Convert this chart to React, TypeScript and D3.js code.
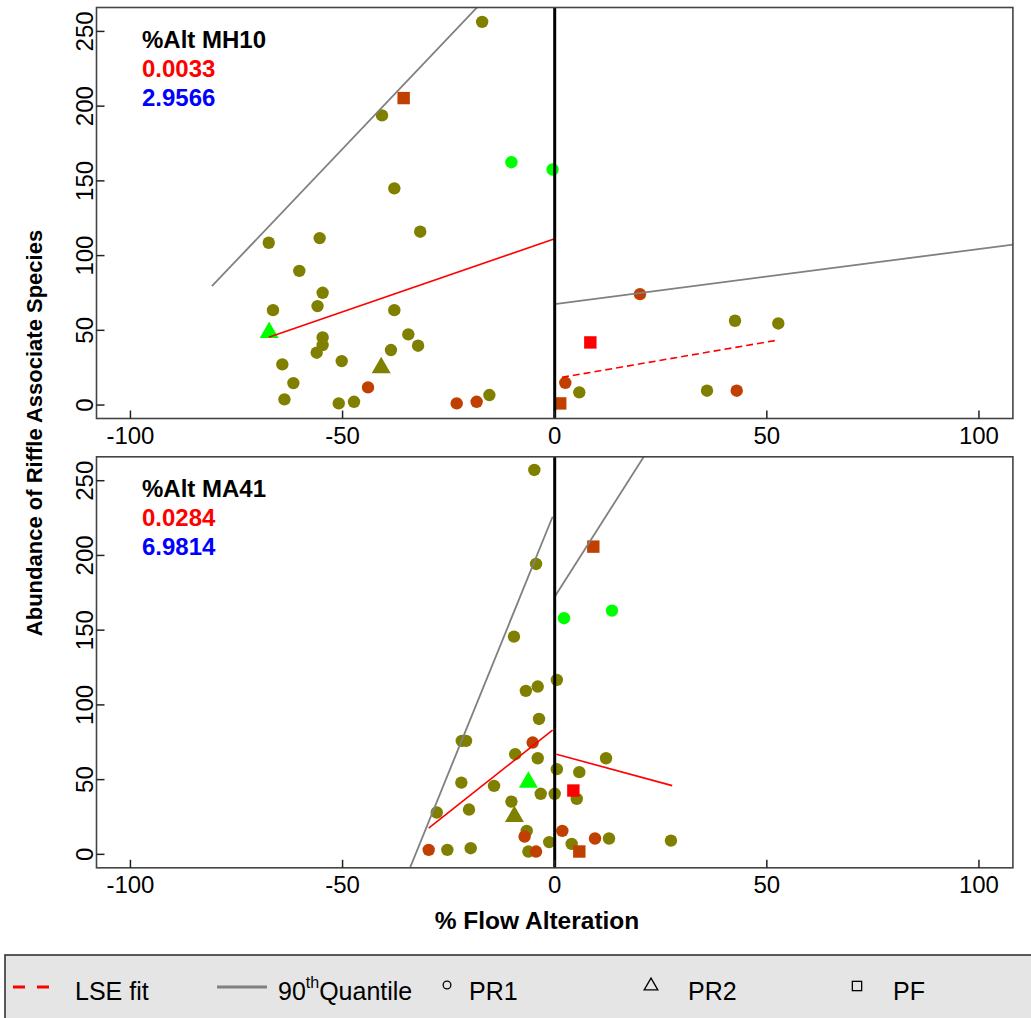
import React from "react";
import * as d3 from "d3";

// ---- data ----
const xTicks = [-100, -50, 0, 50, 100];
const yTicks = [0, 50, 100, 150, 200, 250];

// c: site class (1 = class A, 2 = class B, 3 = class C, 4 = class D)
// t: station type
const mh10Points = [
  { x: -17.1, y: 256.4, t: "PR1", c: 1 }, { x: -40.7, y: 193.8, t: "PR1", c: 1 },
  { x: -10.2, y: 162.5, t: "PR1", c: 3 }, { x: -0.5, y: 157.6, t: "PR1", c: 3 },
  { x: -37.8, y: 145, t: "PR1", c: 1 }, { x: -31.7, y: 116, t: "PR1", c: 1 },
  { x: -67.4, y: 108.6, t: "PR1", c: 1 }, { x: -55.4, y: 111.7, t: "PR1", c: 1 },
  { x: -60.2, y: 89.8, t: "PR1", c: 1 }, { x: -54.7, y: 75.1, t: "PR1", c: 1 },
  { x: -55.9, y: 66.2, t: "PR1", c: 1 }, { x: -66.4, y: 63.5, t: "PR1", c: 1 },
  { x: -37.8, y: 63.5, t: "PR1", c: 1 }, { x: -54.7, y: 45.3, t: "PR1", c: 1 },
  { x: -54.7, y: 40.1, t: "PR1", c: 1 }, { x: -56.1, y: 35, t: "PR1", c: 1 },
  { x: -34.5, y: 47.3, t: "PR1", c: 1 }, { x: -32.2, y: 39.7, t: "PR1", c: 1 },
  { x: -38.6, y: 36.8, t: "PR1", c: 1 }, { x: -50.2, y: 29.4, t: "PR1", c: 1 },
  { x: -64.2, y: 27.2, t: "PR1", c: 1 }, { x: -61.6, y: 14.7, t: "PR1", c: 1 },
  { x: -63.7, y: 3.8, t: "PR1", c: 1 }, { x: -50.9, y: 1.1, t: "PR1", c: 1 },
  { x: -47.3, y: 2.2, t: "PR1", c: 1 }, { x: -44, y: 11.8, t: "PR1", c: 2 },
  { x: -23.1, y: 1.1, t: "PR1", c: 2 }, { x: -18.4, y: 2.2, t: "PR1", c: 2 },
  { x: -15.4, y: 6.7, t: "PR1", c: 1 }, { x: 20.1, y: 74.2, t: "PR1", c: 2 },
  { x: 42.5, y: 56.4, t: "PR1", c: 1 }, { x: 52.7, y: 54.6, t: "PR1", c: 1 },
  { x: 2.5, y: 14.9, t: "PR1", c: 2 }, { x: 5.8, y: 8.5, t: "PR1", c: 1 },
  { x: 35.9, y: 9.6, t: "PR1", c: 1 }, { x: 42.9, y: 9.6, t: "PR1", c: 2 },
  { x: -67.3, y: 48.5, t: "PR2", c: 3 }, { x: -40.9, y: 25, t: "PR2", c: 1 },
  { x: -35.6, y: 205.4, t: "PF", c: 2 }, { x: 1.3, y: 1.1, t: "PF", c: 2 },
  { x: 8.4, y: 41.9, t: "PF", c: 4 },
];

const ma41Points = [
  { x: -4.8, y: 257.2, t: "PR1", c: 1 }, { x: -4.4, y: 194.3, t: "PR1", c: 1 },
  { x: 13.5, y: 163.1, t: "PR1", c: 3 }, { x: 2.2, y: 158, t: "PR1", c: 3 },
  { x: -9.6, y: 145.7, t: "PR1", c: 1 }, { x: 0.5, y: 116.7, t: "PR1", c: 1 },
  { x: -4, y: 112.3, t: "PR1", c: 1 }, { x: -6.8, y: 109.4, t: "PR1", c: 1 },
  { x: -3.7, y: 90.6, t: "PR1", c: 1 }, { x: -21.9, y: 75.9, t: "PR1", c: 1 },
  { x: -20.9, y: 75.9, t: "PR1", c: 1 }, { x: -5.2, y: 74.8, t: "PR1", c: 2 },
  { x: -9.3, y: 67, t: "PR1", c: 1 }, { x: -4, y: 64.3, t: "PR1", c: 1 },
  { x: 12.1, y: 64.3, t: "PR1", c: 1 }, { x: 0.5, y: 57, t: "PR1", c: 1 },
  { x: 5.8, y: 55, t: "PR1", c: 1 }, { x: -22, y: 48, t: "PR1", c: 1 },
  { x: -14.3, y: 45.8, t: "PR1", c: 1 }, { x: -3.3, y: 40.5, t: "PR1", c: 1 },
  { x: 0, y: 40.5, t: "PR1", c: 1 }, { x: 5.2, y: 37.1, t: "PR1", c: 1 },
  { x: -10.2, y: 35.3, t: "PR1", c: 1 }, { x: -20.2, y: 30, t: "PR1", c: 1 },
  { x: -27.8, y: 28, t: "PR1", c: 1 }, { x: -6.6, y: 15.7, t: "PR1", c: 1 },
  { x: -7.1, y: 11.9, t: "PR1", c: 2 }, { x: 1.8, y: 15.7, t: "PR1", c: 2 },
  { x: 9.5, y: 10.6, t: "PR1", c: 2 }, { x: 12.8, y: 10.6, t: "PR1", c: 1 },
  { x: 27.4, y: 9.2, t: "PR1", c: 1 }, { x: -1.3, y: 8.2, t: "PR1", c: 1 },
  { x: 4, y: 7, t: "PR1", c: 1 }, { x: -29.7, y: 3, t: "PR1", c: 2 },
  { x: -25.3, y: 3, t: "PR1", c: 1 }, { x: -19.8, y: 4.1, t: "PR1", c: 1 },
  { x: -6.2, y: 1.9, t: "PR1", c: 1 }, { x: -4.4, y: 1.9, t: "PR1", c: 2 },
  { x: -6.2, y: 48.2, t: "PR2", c: 3 }, { x: -9.5, y: 25.3, t: "PR2", c: 1 },
  { x: 9.1, y: 205.9, t: "PF", c: 2 }, { x: 4.4, y: 42.7, t: "PF", c: 4 },
  { x: 5.8, y: 1.9, t: "PF", c: 2 },
];

// fitted lines: y = a + b*x over [x0, x1]
const mh10Lines = [
  { kind: "q90", a: 320.7, b: 2.985, x0: -80.8, x1: 0 },
  { kind: "lse", a: 111.3, b: 0.979, x0: -67.4, x1: 0 },
  { kind: "q90", a: 67.6, b: 0.368, x0: 0, x1: 110 },
  { kind: "lseDash", a: 17.7, b: 0.49, x0: 1.7, x1: 52.5 },
];
const ma41Lines = [
  { kind: "q90", a: 229.4, b: 6.99, x0: -34.5, x1: -0.5 },
  { kind: "lse", a: 84.3, b: 2.25, x0: -29.7, x1: -0.5 },
  { kind: "q90", a: 172.4, b: 4.46, x0: 0, x1: 28 },
  { kind: "lse", a: 67.3, b: -0.77, x0: 0.4, x1: 27.7 },
];

const panels = [
  { title: "%Alt MH10", v1: "0.0033", v2: "2.9566", points: mh10Points, lines: mh10Lines },
  { title: "%Alt MA41", v1: "0.0284", v2: "6.9814", points: ma41Points, lines: ma41Lines },
];

const legendItems = ["LSE fit", "90th Quantile", "PR1", "PR2", "PF"];

// ---- styles ----
const classColor: Record<number, string> = { 1: "#808000", 2: "#BF4000", 3: "#00FF00", 4: "#FF0000" };
const FONT = "'Liberation Sans', Arial, Helvetica, sans-serif";

const X0 = 96.5, X1 = 1012.9;
const panelTops = [7.5, 456.8];
const PH = 411;

function Marker({ t, cx, cy, fill, stroke, size = 1 }: any) {
  if (t === "PR1") return <circle cx={cx} cy={cy} r={6.2 * size} fill={fill} stroke={stroke} strokeWidth={stroke ? 1.3 : 0} />;
  if (t === "PR2") {
    const s = 9.5 * size;
    const h = s * 1.732;
    const pts = [[cx, cy - (2 * h) / 3], [cx - s, cy + h / 3], [cx + s, cy + h / 3]];
    return <polygon points={pts.map((p) => p.join(",")).join(" ")} fill={fill} stroke={stroke} strokeWidth={stroke ? 1.3 : 0} />;
  }
  const a = 6.2 * size;
  return <rect x={cx - a} y={cy - a} width={2 * a} height={2 * a} fill={fill} stroke={stroke} strokeWidth={stroke ? 1.3 : 0} />;
}

function Panel({ idx, p }: any) {
  const top = panelTops[idx];
  const x = d3.scaleLinear().domain([-108, 108]).range([X0, X1]);
  const y = d3.scaleLinear().domain([-9, 266]).range([top + PH, top]);
  const clipId = `clip${idx}`;
  const line = d3.line<number>().x((v) => x(v[0] as any)).y((v: any) => y(v[1]));
  return (
    <g>
      <defs>
        <clipPath id={clipId}>
          <rect x={X0} y={top} width={X1 - X0} height={PH} />
        </clipPath>
      </defs>
      <g clipPath={`url(#${clipId})`}>
        {p.points.map((d: any, i: number) => (
          <Marker key={i} t={d.t} cx={x(d.x)} cy={y(d.y)} fill={classColor[d.c]} />
        ))}
        {p.lines.map((l: any, i: number) => {
          const pts: any = [[l.x0, l.a + l.b * l.x0], [l.x1, l.a + l.b * l.x1]];
          const isQ = l.kind === "q90";
          return (
            <path key={i} d={line(pts) || ""} fill="none"
              stroke={isQ ? "#808080" : "#FF0000"}
              strokeWidth={isQ ? 1.8 : 1.6}
              strokeDasharray={l.kind === "lseDash" ? "7,4" : undefined} />
          );
        })}
        <line x1={x(0)} x2={x(0)} y1={top} y2={top + PH} stroke="#000" strokeWidth={3} />
      </g>
      <rect x={X0} y={top} width={X1 - X0} height={PH} fill="none" stroke="#444" strokeWidth={1.6} />
      {xTicks.map((t) => (
        <g key={t}>
          <line x1={x(t)} x2={x(t)} y1={top + PH} y2={top + PH - 8} stroke="#222" strokeWidth={1.5} />
          <text x={x(t)} y={top + 436.5} textAnchor="middle" fontSize={24} fontFamily={FONT} fill="#000">{t}</text>
        </g>
      ))}
      {yTicks.map((t) => (
        <g key={t}>
          <line x1={X0} x2={X0 + 8} y1={y(t)} y2={y(t)} stroke="#222" strokeWidth={1.5} />
          <text transform={`translate(92.5,${y(t)}) rotate(-90)`} textAnchor="middle" fontSize={24} fontFamily={FONT} fill="#000">{t}</text>
        </g>
      ))}
      <text x={142} y={top + 40.5} fontSize={24} fontWeight="bold" fontFamily={FONT} fill="#000">{p.title}</text>
      <text x={142} y={top + 69.5} fontSize={24} fontWeight="bold" fontFamily={FONT} fill="#FF0000">{p.v1}</text>
      <text x={142} y={top + 98.5} fontSize={24} fontWeight="bold" fontFamily={FONT} fill="#0000FF">{p.v2}</text>
    </g>
  );
}

export default function App() {
  const ly = 987;
  const tb = 1000;
  return (
    <svg width={1031} height={1018} style={{ position: "absolute", left: 0, top: 0, background: "#fff" }}>
      <rect x={0} y={0} width={1031} height={1018} fill="#fff" />
      {panels.map((p, i) => <Panel key={i} idx={i} p={p} />)}
      <text transform="translate(42,433) rotate(-90)" textAnchor="middle" fontSize={22} fontWeight="bold" fontFamily={FONT} fill="#000">
        Abundance of Riffle Associate Species
      </text>
      <text x={537} y={929} textAnchor="middle" fontSize={24.5} fontWeight="bold" fontFamily={FONT} fill="#000">% Flow Alteration</text>
      {/* legend */}
      <rect x={5} y={955} width={1040} height={80} fill="#E5E5E5" stroke="#333" strokeWidth={1.6} />
      <line x1={13} x2={52} y1={ly} y2={ly} stroke="#FF0000" strokeWidth={3} strokeDasharray="12,12" />
      <text x={75} y={tb} fontSize={25} fontFamily={FONT} fill="#000">{legendItems[0]}</text>
      <line x1={217} x2={267} y1={ly} y2={ly} stroke="#808080" strokeWidth={3} />
      <text x={278} y={tb} fontSize={25} fontFamily={FONT} fill="#000">
        90<tspan fontSize={16} dy={-12}>th</tspan><tspan dy={12}>Quantile</tspan>
      </text>
      <Marker t="PR1" cx={447} cy={ly - 2} fill="none" stroke="#000" size={0.62} />
      <text x={469} y={tb} fontSize={25} fontFamily={FONT} fill="#000">{legendItems[2]}</text>
      <Marker t="PR2" cx={651} cy={ly - 1} fill="none" stroke="#000" size={0.72} />
      <text x={688} y={tb} fontSize={25} fontFamily={FONT} fill="#000">{legendItems[3]}</text>
      <Marker t="PF" cx={857} cy={ly - 1} fill="none" stroke="#000" size={0.75} />
      <text x={893} y={tb} fontSize={25} fontFamily={FONT} fill="#000">{legendItems[4]}</text>
    </svg>
  );
}
